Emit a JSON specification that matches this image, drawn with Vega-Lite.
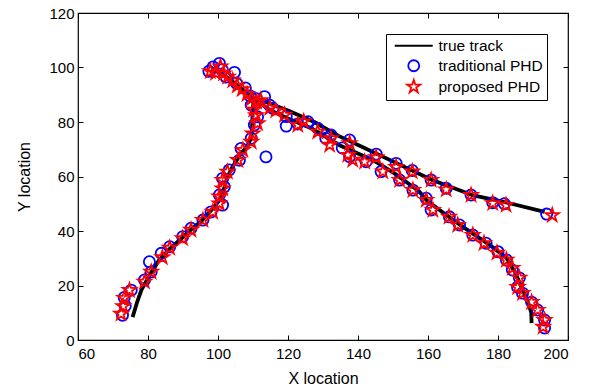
{
  "$schema": "https://vega.github.io/schema/vega-lite/v6.json",
  "width": 490,
  "height": 327,
  "autosize": {"type": "none"},
  "padding": {"left": 78, "top": 13, "right": 28, "bottom": 51},
  "background": "white",
  "config": {
    "font": "Liberation Sans",
    "view": {"stroke": "black", "strokeWidth": 1.2},
    "axis": {
      "grid": false,
      "domain": false,
      "tickColor": "black",
      "tickSize": -5,
      "tickWidth": 1,
      "labelColor": "black",
      "labelFontSize": 15,
      "labelFont": "Liberation Sans",
      "titleFont": "Liberation Sans",
      "titleFontSize": 16,
      "titleFontWeight": "normal",
      "titleColor": "black"
    },
    "legend": {
      "orient": "none", "legendX": 308, "legendY": 21, "strokeColor": "black", "fillColor": "white", "padding": 4,
      "labelFontSize": 15.5, "labelFont": "Liberation Sans", "labelColor": "black", "rowPadding": 1,
      "symbolSize": 121, "symbolOffset": 16, "labelOffset": 17, "symbolStrokeWidth": 1.8
    }
  },
  "datasets": {
    "track": [
      {"t": "A", "i": 0, "x": 75.6, "y": 8.4},
      {"t": "A", "i": 1, "x": 76.8, "y": 13.5},
      {"t": "A", "i": 2, "x": 78.1, "y": 18.3},
      {"t": "A", "i": 3, "x": 80.5, "y": 24},
      {"t": "A", "i": 4, "x": 83.2, "y": 29.3},
      {"t": "A", "i": 5, "x": 86, "y": 33.2},
      {"t": "A", "i": 6, "x": 89, "y": 36.6},
      {"t": "A", "i": 7, "x": 92, "y": 40.2},
      {"t": "A", "i": 8, "x": 95.5, "y": 44},
      {"t": "A", "i": 9, "x": 98, "y": 47.5},
      {"t": "A", "i": 10, "x": 100.4, "y": 51.3},
      {"t": "A", "i": 11, "x": 101.8, "y": 56},
      {"t": "A", "i": 12, "x": 102.7, "y": 59.8},
      {"t": "A", "i": 13, "x": 104.1, "y": 63.5},
      {"t": "A", "i": 14, "x": 106.7, "y": 68.6},
      {"t": "A", "i": 15, "x": 108.5, "y": 71.5},
      {"t": "A", "i": 16, "x": 109.6, "y": 74.5},
      {"t": "A", "i": 17, "x": 109.8, "y": 80},
      {"t": "A", "i": 18, "x": 109.9, "y": 85},
      {"t": "A", "i": 19, "x": 110.3, "y": 88.3},
      {"t": "A", "i": 20, "x": 112, "y": 88.2},
      {"t": "A", "i": 21, "x": 114.6, "y": 86.9},
      {"t": "A", "i": 22, "x": 120, "y": 84.2},
      {"t": "A", "i": 23, "x": 127.5, "y": 80},
      {"t": "A", "i": 24, "x": 134.3, "y": 75},
      {"t": "A", "i": 25, "x": 142, "y": 70.4},
      {"t": "A", "i": 26, "x": 151, "y": 64.9},
      {"t": "A", "i": 27, "x": 161.2, "y": 58.7},
      {"t": "A", "i": 28, "x": 172.6, "y": 53.2},
      {"t": "A", "i": 29, "x": 182, "y": 50.6},
      {"t": "A", "i": 30, "x": 193.3, "y": 47},
      {"t": "B", "i": 0, "x": 98, "y": 99.5},
      {"t": "B", "i": 1, "x": 100.5, "y": 98},
      {"t": "B", "i": 2, "x": 103, "y": 96},
      {"t": "B", "i": 3, "x": 105.5, "y": 93.5},
      {"t": "B", "i": 4, "x": 108, "y": 91},
      {"t": "B", "i": 5, "x": 110.5, "y": 88.5},
      {"t": "B", "i": 6, "x": 114.6, "y": 84.5},
      {"t": "B", "i": 7, "x": 120, "y": 81.3},
      {"t": "B", "i": 8, "x": 127, "y": 77.5},
      {"t": "B", "i": 9, "x": 134.7, "y": 71.5},
      {"t": "B", "i": 10, "x": 144.3, "y": 66},
      {"t": "B", "i": 11, "x": 150, "y": 61.5},
      {"t": "B", "i": 12, "x": 154, "y": 57.8},
      {"t": "B", "i": 13, "x": 157.5, "y": 54.5},
      {"t": "B", "i": 14, "x": 159.6, "y": 51.3},
      {"t": "B", "i": 15, "x": 163.3, "y": 47.7},
      {"t": "B", "i": 16, "x": 168.9, "y": 42.5},
      {"t": "B", "i": 17, "x": 172.6, "y": 39.2},
      {"t": "B", "i": 18, "x": 177.5, "y": 35},
      {"t": "B", "i": 19, "x": 182.4, "y": 30.2},
      {"t": "B", "i": 20, "x": 184.8, "y": 25},
      {"t": "B", "i": 21, "x": 187.1, "y": 18.3},
      {"t": "B", "i": 22, "x": 188.8, "y": 13},
      {"t": "B", "i": 23, "x": 189.5, "y": 10},
      {"t": "B", "i": 24, "x": 189.6, "y": 6.2}
    ],
    "est": [
      {"s": "traditional PHD", "x": 72.7, "y": 9.1},
      {"s": "traditional PHD", "x": 73.5, "y": 12.5},
      {"s": "traditional PHD", "x": 73.2, "y": 15.6},
      {"s": "traditional PHD", "x": 75.2, "y": 18.3},
      {"s": "traditional PHD", "x": 79, "y": 22},
      {"s": "traditional PHD", "x": 80.9, "y": 25},
      {"s": "traditional PHD", "x": 80.4, "y": 28.7},
      {"s": "traditional PHD", "x": 83.8, "y": 31.8},
      {"s": "traditional PHD", "x": 86.2, "y": 34.2},
      {"s": "traditional PHD", "x": 89.9, "y": 37.9},
      {"s": "traditional PHD", "x": 92.3, "y": 41},
      {"s": "traditional PHD", "x": 95.7, "y": 44},
      {"s": "traditional PHD", "x": 98, "y": 47},
      {"s": "traditional PHD", "x": 101.3, "y": 49.5},
      {"s": "traditional PHD", "x": 100.4, "y": 53.2},
      {"s": "traditional PHD", "x": 101.8, "y": 56.2},
      {"s": "traditional PHD", "x": 101.3, "y": 59.3},
      {"s": "traditional PHD", "x": 103.2, "y": 62.4},
      {"s": "traditional PHD", "x": 106.1, "y": 66},
      {"s": "traditional PHD", "x": 106.6, "y": 70.3},
      {"s": "traditional PHD", "x": 109.5, "y": 74},
      {"s": "traditional PHD", "x": 110.4, "y": 78.9},
      {"s": "traditional PHD", "x": 111.3, "y": 81.9},
      {"s": "traditional PHD", "x": 109.5, "y": 86.2},
      {"s": "traditional PHD", "x": 113.7, "y": 67.2},
      {"s": "traditional PHD", "x": 97.4, "y": 98.6},
      {"s": "traditional PHD", "x": 98.6, "y": 100.2},
      {"s": "traditional PHD", "x": 100.4, "y": 101.5},
      {"s": "traditional PHD", "x": 101.2, "y": 99.2},
      {"s": "traditional PHD", "x": 102.3, "y": 96.5},
      {"s": "traditional PHD", "x": 104.7, "y": 98.2},
      {"s": "traditional PHD", "x": 105.3, "y": 94.2},
      {"s": "traditional PHD", "x": 107.8, "y": 92.5},
      {"s": "traditional PHD", "x": 109.2, "y": 89.5},
      {"s": "traditional PHD", "x": 111, "y": 88.5},
      {"s": "traditional PHD", "x": 113.3, "y": 89.3},
      {"s": "traditional PHD", "x": 114.7, "y": 86.2},
      {"s": "traditional PHD", "x": 115.7, "y": 85},
      {"s": "traditional PHD", "x": 119.5, "y": 82},
      {"s": "traditional PHD", "x": 119.5, "y": 78.5},
      {"s": "traditional PHD", "x": 122.8, "y": 79.3},
      {"s": "traditional PHD", "x": 125.7, "y": 80.1},
      {"s": "traditional PHD", "x": 128.5, "y": 77.7},
      {"s": "traditional PHD", "x": 132.3, "y": 75.2},
      {"s": "traditional PHD", "x": 137.6, "y": 73.4},
      {"s": "traditional PHD", "x": 145.2, "y": 68.2},
      {"s": "traditional PHD", "x": 150.9, "y": 64.8},
      {"s": "traditional PHD", "x": 155.5, "y": 62.2},
      {"s": "traditional PHD", "x": 160.9, "y": 58.7},
      {"s": "traditional PHD", "x": 165.2, "y": 55.7},
      {"s": "traditional PHD", "x": 172.3, "y": 53.2},
      {"s": "traditional PHD", "x": 178.5, "y": 50.4},
      {"s": "traditional PHD", "x": 181.8, "y": 50},
      {"s": "traditional PHD", "x": 193.9, "y": 46.2},
      {"s": "traditional PHD", "x": 130.8, "y": 74},
      {"s": "traditional PHD", "x": 135.5, "y": 70.5},
      {"s": "traditional PHD", "x": 137.6, "y": 67.3},
      {"s": "traditional PHD", "x": 142.3, "y": 65.4},
      {"s": "traditional PHD", "x": 146.6, "y": 61.8},
      {"s": "traditional PHD", "x": 151.9, "y": 58.7},
      {"s": "traditional PHD", "x": 155.7, "y": 55},
      {"s": "traditional PHD", "x": 159.5, "y": 52},
      {"s": "traditional PHD", "x": 160.9, "y": 47.7},
      {"s": "traditional PHD", "x": 166.1, "y": 45.2},
      {"s": "traditional PHD", "x": 169, "y": 42.2},
      {"s": "traditional PHD", "x": 172.8, "y": 38.5},
      {"s": "traditional PHD", "x": 176.6, "y": 35.5},
      {"s": "traditional PHD", "x": 180, "y": 32.4},
      {"s": "traditional PHD", "x": 182.4, "y": 29.4},
      {"s": "traditional PHD", "x": 184.1, "y": 25.7},
      {"s": "traditional PHD", "x": 186.1, "y": 22.8},
      {"s": "traditional PHD", "x": 185.6, "y": 19.4},
      {"s": "traditional PHD", "x": 187, "y": 17.2},
      {"s": "traditional PHD", "x": 189.6, "y": 13.9},
      {"s": "traditional PHD", "x": 191.3, "y": 11},
      {"s": "traditional PHD", "x": 193.3, "y": 7.3},
      {"s": "traditional PHD", "x": 193.3, "y": 4.4},
      {"s": "proposed PHD", "x": 72.3, "y": 9.6},
      {"s": "proposed PHD", "x": 72.9, "y": 12.4},
      {"s": "proposed PHD", "x": 73.2, "y": 15.4},
      {"s": "proposed PHD", "x": 74.7, "y": 18.3},
      {"s": "proposed PHD", "x": 79, "y": 21.4},
      {"s": "proposed PHD", "x": 80.9, "y": 25},
      {"s": "proposed PHD", "x": 84.1, "y": 30.3},
      {"s": "proposed PHD", "x": 86.2, "y": 33.8},
      {"s": "proposed PHD", "x": 89.9, "y": 37.3},
      {"s": "proposed PHD", "x": 92.3, "y": 40.4},
      {"s": "proposed PHD", "x": 95.7, "y": 44},
      {"s": "proposed PHD", "x": 98.5, "y": 47},
      {"s": "proposed PHD", "x": 100.4, "y": 50.1},
      {"s": "proposed PHD", "x": 100.4, "y": 52.6},
      {"s": "proposed PHD", "x": 101.3, "y": 55.6},
      {"s": "proposed PHD", "x": 101.3, "y": 58.7},
      {"s": "proposed PHD", "x": 102.7, "y": 61.7},
      {"s": "proposed PHD", "x": 105.7, "y": 66},
      {"s": "proposed PHD", "x": 107.1, "y": 69.7},
      {"s": "proposed PHD", "x": 109.5, "y": 72.7},
      {"s": "proposed PHD", "x": 109.9, "y": 75.8},
      {"s": "proposed PHD", "x": 111.3, "y": 79.5},
      {"s": "proposed PHD", "x": 110.9, "y": 82.5},
      {"s": "proposed PHD", "x": 110.2, "y": 84.5},
      {"s": "proposed PHD", "x": 97.8, "y": 98.6},
      {"s": "proposed PHD", "x": 99.3, "y": 98},
      {"s": "proposed PHD", "x": 100.7, "y": 100.3},
      {"s": "proposed PHD", "x": 101.6, "y": 97.8},
      {"s": "proposed PHD", "x": 102.8, "y": 96.6},
      {"s": "proposed PHD", "x": 104.2, "y": 95.2},
      {"s": "proposed PHD", "x": 105.5, "y": 93.3},
      {"s": "proposed PHD", "x": 106.9, "y": 92},
      {"s": "proposed PHD", "x": 108.3, "y": 90.2},
      {"s": "proposed PHD", "x": 109.6, "y": 88.6},
      {"s": "proposed PHD", "x": 111, "y": 87.4},
      {"s": "proposed PHD", "x": 112.2, "y": 88},
      {"s": "proposed PHD", "x": 114.8, "y": 85.1},
      {"s": "proposed PHD", "x": 116.5, "y": 84.2},
      {"s": "proposed PHD", "x": 119, "y": 82.6},
      {"s": "proposed PHD", "x": 122.8, "y": 78.9},
      {"s": "proposed PHD", "x": 124.5, "y": 80.2},
      {"s": "proposed PHD", "x": 128.5, "y": 76.4},
      {"s": "proposed PHD", "x": 132.3, "y": 74},
      {"s": "proposed PHD", "x": 131.9, "y": 71.6},
      {"s": "proposed PHD", "x": 137.6, "y": 72.2},
      {"s": "proposed PHD", "x": 137.1, "y": 67.9},
      {"s": "proposed PHD", "x": 138.5, "y": 66.1},
      {"s": "proposed PHD", "x": 141.9, "y": 65.4},
      {"s": "proposed PHD", "x": 145.2, "y": 67},
      {"s": "proposed PHD", "x": 147.1, "y": 61.8},
      {"s": "proposed PHD", "x": 150.9, "y": 63.5},
      {"s": "proposed PHD", "x": 155.5, "y": 61.8},
      {"s": "proposed PHD", "x": 160.9, "y": 58.7},
      {"s": "proposed PHD", "x": 165.2, "y": 55.2},
      {"s": "proposed PHD", "x": 172.3, "y": 53.2},
      {"s": "proposed PHD", "x": 178.5, "y": 50.2},
      {"s": "proposed PHD", "x": 182.3, "y": 49.5},
      {"s": "proposed PHD", "x": 195.5, "y": 45.8},
      {"s": "proposed PHD", "x": 151.9, "y": 58.7},
      {"s": "proposed PHD", "x": 155.7, "y": 55},
      {"s": "proposed PHD", "x": 159.5, "y": 51.4},
      {"s": "proposed PHD", "x": 161.4, "y": 47.7},
      {"s": "proposed PHD", "x": 166, "y": 45.2},
      {"s": "proposed PHD", "x": 168.5, "y": 42.2},
      {"s": "proposed PHD", "x": 172.8, "y": 38.5},
      {"s": "proposed PHD", "x": 176, "y": 35.5},
      {"s": "proposed PHD", "x": 179.7, "y": 32},
      {"s": "proposed PHD", "x": 182.4, "y": 29.4},
      {"s": "proposed PHD", "x": 184.1, "y": 26.4},
      {"s": "proposed PHD", "x": 186.1, "y": 22.8},
      {"s": "proposed PHD", "x": 185.6, "y": 19.4},
      {"s": "proposed PHD", "x": 187, "y": 17.2},
      {"s": "proposed PHD", "x": 189.6, "y": 13.9},
      {"s": "proposed PHD", "x": 191.3, "y": 11},
      {"s": "proposed PHD", "x": 193.3, "y": 7.3},
      {"s": "proposed PHD", "x": 192.9, "y": 4.8}
    ]
  },
  "layer": [
    {
      "data": {"name": "track"},
      "mark": {"type": "line", "color": "black", "strokeWidth": 3.8, "strokeJoin": "round"},
      "encoding": {
        "x": {"field": "x", "type": "quantitative", "scale": {"domain": [60, 200], "nice": false, "zero": false},
          "axis": {"orient": "bottom", "values": [60, 80, 100, 120, 140, 160, 180, 200], "title": "X location", "labelPadding": 11, "titlePadding": 9}},
        "y": {"field": "y", "type": "quantitative", "scale": {"domain": [0, 120], "nice": false, "zero": false},
          "axis": {"orient": "left", "values": [0, 20, 40, 60, 80, 100, 120], "title": "Y location", "labelPadding": 9, "titlePadding": 16}},
        "detail": {"field": "t", "type": "nominal"},
        "order": {"field": "i", "type": "quantitative"}
      }
    },
    {
      "data": {"name": "est"},
      "mark": {"type": "point", "filled": false, "strokeWidth": 1.8, "size": 125, "opacity": 1},
      "encoding": {
        "x": {"field": "x", "type": "quantitative", "scale": {"domain": [60, 200], "nice": false, "zero": false},
          "axis": {"orient": "top", "values": [60, 80, 100, 120, 140, 160, 180, 200], "labels": false, "title": null}},
        "y": {"field": "y", "type": "quantitative", "scale": {"domain": [0, 120], "nice": false, "zero": false},
          "axis": {"orient": "right", "values": [0, 20, 40, 60, 80, 100, 120], "labels": false, "title": null}},
        "color": {"field": "s", "type": "nominal",
          "scale": {"domain": ["true track", "traditional PHD", "proposed PHD"], "range": ["#000000", "#0000ff", "#ff0000"]},
          "legend": {"title": null,
            "encode": {"symbols": {"update": {
              "strokeWidth": {"signal": "datum.value === 'true track' ? 4.5 : 1.8"}
            }}}}},
        "shape": {"field": "s", "type": "nominal",
          "scale": {"domain": ["true track", "traditional PHD", "proposed PHD"], "range": ["M-3.45,0L3.45,0", "circle", "M0,-1.25L0.281,-0.386L1.189,-0.386L0.454,0.148L0.735,1.011L0,0.478L-0.735,1.011L-0.454,0.148L-1.189,-0.386L-0.281,-0.386Z"]},
          "legend": {"title": null}}
      }
    }
  ],
  "resolve": {"axis": {"x": "independent", "y": "independent"}}
}
